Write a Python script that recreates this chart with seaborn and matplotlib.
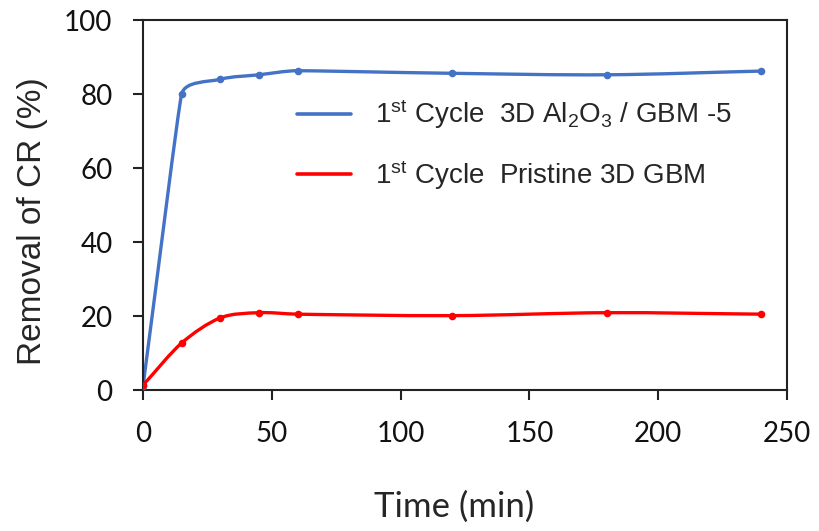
import numpy as np
import matplotlib
matplotlib.use('Agg')
import matplotlib.pyplot as plt
from matplotlib.path import Path
from matplotlib.patches import PathPatch
from matplotlib.lines import Line2D
import seaborn as sns

# removal of CR vs time
time_min = [0, 15, 30, 45, 60, 120, 180, 240]
removal_al2o3 = [1.0, 80.0, 84.0, 85.2, 86.3, 85.6, 85.2, 86.2]
removal_pristine = [1.3, 12.7, 19.5, 20.9, 20.5, 20.1, 20.9, 20.5]

label_al2o3 = r'1$^{\mathrm{st}}$ Cycle  3D Al$_{\mathrm{2}}$O$_{\mathrm{3}}$ / GBM -5'
label_pristine = r'1$^{\mathrm{st}}$ Cycle  Pristine 3D GBM'

blue = '#4472C4'
red = '#FF0000'

sns.set_style('white')
plt.rcParams['font.family'] = ['Lato', 'DejaVu Sans']
plt.rcParams['mathtext.fontset'] = 'custom'
plt.rcParams['mathtext.rm'] = 'Liberation Sans'
plt.rcParams['mathtext.it'] = 'Liberation Sans'


def smooth_path(ax, xs, ys, color):
    # excel-like smoothed line: cubic bezier through the points
    # tangents in pixel-ish units, handle length limited by the shorter neighbour segment
    sx, sy = 2.576, 3.7
    p = np.column_stack([np.array(xs) * sx, np.array(ys) * sy])
    n = len(p)
    verts = [tuple(p[0])]
    codes = [Path.MOVETO]
    for i in range(n - 1):
        a = p[i - 1] if i > 0 else p[i]
        b = p[i]
        c = p[i + 1]
        d = p[i + 2] if i + 2 < n else p[i + 1]
        seg = np.linalg.norm(c - b)
        l1 = min(seg, np.linalg.norm(b - a)) if i > 0 else seg
        l2 = min(seg, np.linalg.norm(d - c)) if i + 2 < n else seg
        t1 = (c - a) / np.linalg.norm(c - a)
        t2 = (d - b) / np.linalg.norm(d - b)
        c1 = b + t1 * l1 / 3
        c2 = c - t2 * l2 / 3
        verts += [tuple(c1), tuple(c2), tuple(c)]
        codes += [Path.CURVE4] * 3
    verts = [(v[0] / sx, v[1] / sy) for v in verts]
    patch = PathPatch(Path(verts, codes), facecolor='none', edgecolor=color,
                      lw=2.4, capstyle='round', joinstyle='round')
    ax.add_patch(patch)


fig = plt.figure(figsize=(8.2, 5.31), dpi=100)
ax = fig.add_axes([0.1744, 0.2655, 0.7854, 0.6968])

smooth_path(ax, time_min, removal_al2o3, blue)
smooth_path(ax, time_min, removal_pristine, red)
sns.scatterplot(x=time_min, y=removal_al2o3, color=blue, s=30, linewidth=0, ax=ax, legend=False, zorder=3)
sns.scatterplot(x=time_min, y=removal_pristine, color=red, s=30, linewidth=0, ax=ax, legend=False, zorder=3)

ax.set_xlim(0, 250)
ax.set_ylim(0, 100)
ax.set_xticks(np.arange(0, 251, 50))
ax.set_yticks(np.arange(0, 101, 20))

for s in ax.spines.values():
    s.set_color('#222222')
    s.set_linewidth(1.5)
    s.set_visible(True)

ax.tick_params(axis='both', direction='out', length=7, width=1.5, color='#222222',
               labelsize=20, pad=15, labelcolor='#111111', bottom=True, left=True)

ax.set_xlabel('Time (min)', fontsize=25)
ax.xaxis.set_label_coords(0.483, -0.272)
ax.set_ylabel('Removal of CR (%)', fontsize=24, family='Liberation Sans')
ax.yaxis.set_label_coords(-0.148, 0.457)

handles = [Line2D([], [], color=blue, lw=2.6), Line2D([], [], color=red, lw=2.6)]
ax.legend(handles, [label_al2o3, label_pristine], loc='upper left',
          bbox_to_anchor=(0.2, 0.858), frameon=False,
          prop={'family': 'Liberation Sans', 'size': 20},
          handlelength=1.95, handletextpad=0.85, labelspacing=0.95)

fig.savefig('out.png', dpi=100)
